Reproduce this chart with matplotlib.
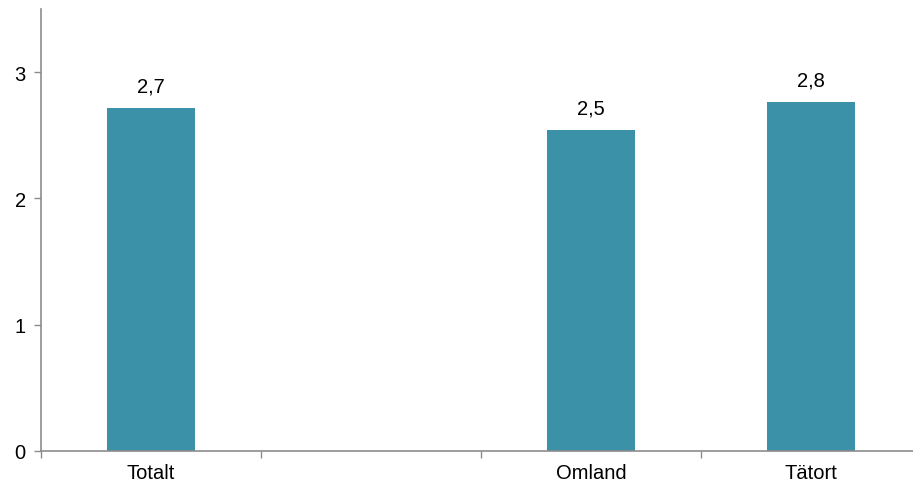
import matplotlib
matplotlib.use("Agg")
import matplotlib.pyplot as plt
import numpy as np

categories = ["Totalt", "", "Omland", "Tätort"]
values = [2.72, None, 2.54, 2.76]
y_ticks = [0, 1, 2, 3]

plt.rcParams["font.family"] = ["Liberation Sans", "DejaVu Sans"]

W, H, DPI = 913, 485, 100
fig = plt.figure(figsize=(W / DPI, H / DPI), dpi=DPI)
ax = fig.add_axes([41 / W, (H - 452) / H, 880 / W, 442 / H])

bar_color = "#3A91A8"
axis_color = "#8C8C8C"
fs = 14.5

x = np.arange(len(categories))
for xi, v in zip(x, values):
    if v is None:
        continue
    ax.bar(xi, v, width=0.4, color=bar_color)
    label = f"{v:.1f}".replace(".", ",")
    ax.annotate(label, (xi, v), xytext=(0, 9), textcoords="offset points",
                ha="center", va="bottom", fontsize=fs, color="#000000")

ax.set_xlim(-0.5, len(categories) - 0.5)
ax.set_ylim(0, 3.5)

ax.set_xticks(x)
ax.set_xticklabels(categories, fontsize=fs)
ax.set_xticks(np.arange(-0.5, len(categories), 1.0), minor=True)
ax.tick_params(axis="x", which="major", length=0, pad=9)
ax.tick_params(axis="x", which="minor", length=5, width=1, color=axis_color, direction="out")

ax.set_yticks(y_ticks)
ax.set_yticklabels([str(t) for t in y_ticks], fontsize=fs)
ax.tick_params(axis="y", which="major", length=5, width=1, color=axis_color, direction="out", pad=6)

for side in ("top", "right"):
    ax.spines[side].set_visible(False)
for side in ("left", "bottom"):
    ax.spines[side].set_color(axis_color)
    ax.spines[side].set_linewidth(1.2)

fig.savefig("out.png", dpi=DPI)
